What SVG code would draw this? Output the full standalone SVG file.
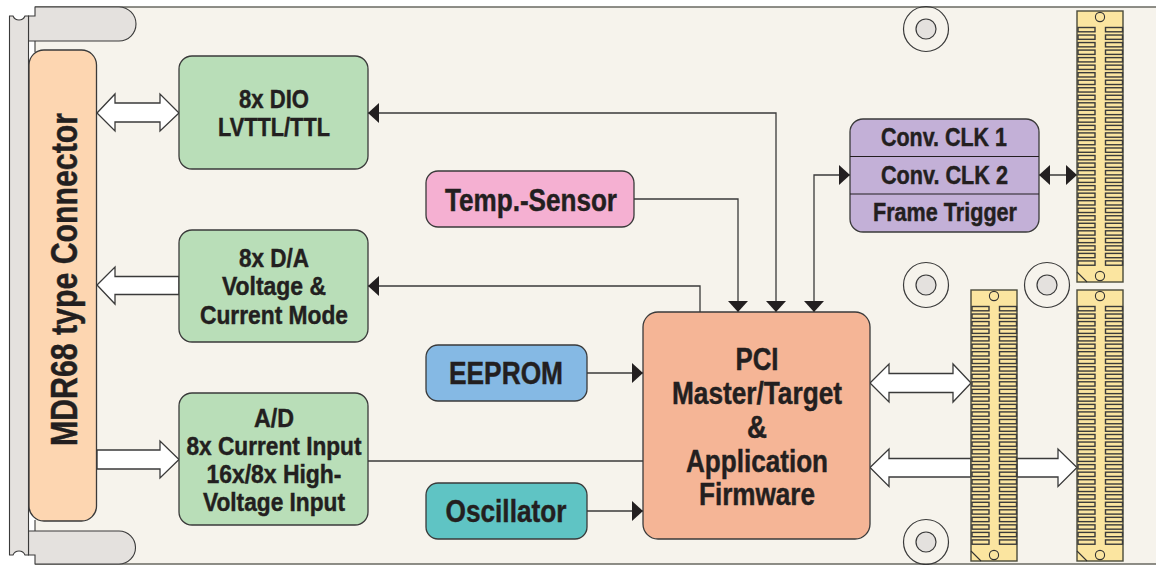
<svg xmlns="http://www.w3.org/2000/svg" width="1156" height="565" viewBox="0 0 1156 565">
<style>
.o{stroke:#3a3a3a;stroke-width:1.3}
.t{font-family:"Liberation Sans",Arial,sans-serif;font-weight:700;fill:#231f20;text-anchor:middle;stroke:#231f20;stroke-width:.45;font-size:26px}
.s29{font-size:31px}
.line{fill:none;stroke:#3a3a3a;stroke-width:1.3}
.wa{fill:#fff;stroke:#3a3a3a;stroke-width:1.3}
.gr{fill:#e4e1de}
.pin{fill:none;stroke:#3a3a3a;stroke-width:1.4}
</style>
<defs>
<marker id="ah" markerUnits="userSpaceOnUse" markerWidth="12" markerHeight="21" refX="11" refY="10" orient="auto-start-reverse" viewBox="0 0 12 20"><path d="M0 0L11 10L0 20z" fill="#231f20"/></marker>
<g id="row"><rect x="1" y="0" width="17" height="4.3" class="pin"/><rect x="28.500" y="0" width="17" height="4.3" class="pin"/></g>
<g id="conn">
<rect x="0" y="0" width="46" height="271" fill="#fbe5a0" stroke="#4a4a3a" stroke-width="1.4"/>
<circle cx="23" cy="6" r="4.6" fill="#fbe5a0" stroke="#333" stroke-width="1.1"/>
<circle cx="23" cy="265" r="4.6" fill="#fbe5a0" stroke="#333" stroke-width="1.1"/>
<path d="M0 261L10 271" fill="none" stroke="#333" stroke-width="1.1"/>
<use href="#row" y="16.500"/><use href="#row" y="24.030"/><use href="#row" y="31.560"/><use href="#row" y="39.090"/>
<use href="#row" y="46.620"/><use href="#row" y="54.150"/><use href="#row" y="61.680"/><use href="#row" y="69.210"/>
<use href="#row" y="76.740"/><use href="#row" y="84.270"/><use href="#row" y="91.800"/><use href="#row" y="99.330"/>
<use href="#row" y="106.860"/><use href="#row" y="114.390"/><use href="#row" y="121.920"/><use href="#row" y="129.450"/>
<use href="#row" y="136.980"/><use href="#row" y="144.510"/><use href="#row" y="152.040"/><use href="#row" y="159.570"/>
<use href="#row" y="167.100"/><use href="#row" y="174.630"/><use href="#row" y="182.160"/><use href="#row" y="189.690"/>
<use href="#row" y="197.220"/><use href="#row" y="204.750"/><use href="#row" y="212.280"/><use href="#row" y="219.810"/>
<use href="#row" y="227.340"/><use href="#row" y="234.870"/><use href="#row" y="242.400"/><use href="#row" y="249.930"/>
</g>
<g id="hole"><circle r="22.500" fill="none" stroke="#3a3a3a" stroke-width="1.2"/><circle r="10" class="gr" stroke="#3a3a3a" stroke-width="1.2"/></g>
</defs>

<g id="board">
<rect x="0" y="0" width="1156" height="565" fill="#fff"/>
<path d="M35 7H1156V564H35z" fill="#f6f3ec"/>
<path d="M35 7H1156M35 564H1156" fill="none" stroke="#6a6a62" stroke-width="1.6"/>
<path d="M28.500 16H35V7H119A17 17 0 0 1 119 41H28.500z" class="gr" stroke="#3a3a3a" stroke-width="1.1"/>
<path d="M28.500 531H119A16.500 16.500 0 0 1 119 564H35V555H28.500z" class="gr" stroke="#3a3a3a" stroke-width="1.1"/>
<path d="M35 41V52M35 520V531" fill="none" stroke="#3a3a3a" stroke-width="1.1"/>
<path d="M9.500 16H13A6.500 6.500 0 0 0 25 16H28.500V555H25A6.500 6.500 0 0 0 13 555H9.500z" class="gr" stroke="#3a3a3a" stroke-width="1.1"/>
</g>
<g id="holes">
<use href="#hole" x="926" y="29"/><use href="#hole" x="926" y="285"/><use href="#hole" x="1047" y="285"/><use href="#hole" x="926" y="542"/>
</g>

<g id="connectors">
<path class="wa" d="M97 113L115 94V103H160V94L179 113L160 131V122H115V131z"/>
<path class="wa" d="M97 285L115 267V276.500H179V294.500H115V304z"/>
<path class="wa" d="M97 450H160V441L179 459.500L160 478V469H97z"/>
<path class="line" d="M368 461H643"/>
<path class="line" d="M368 113H776V312" marker-start="url(#ah)" marker-end="url(#ah)"/>
<path class="line" d="M700 312V286H368" marker-end="url(#ah)"/>
<path class="line" d="M634 199H738V312" marker-end="url(#ah)"/>
<path class="line" d="M587 373H643" marker-end="url(#ah)"/>
<path class="line" d="M587 511H643" marker-end="url(#ah)"/>
<path class="line" d="M850 175H814V312" marker-start="url(#ah)" marker-end="url(#ah)"/>
<path class="line" d="M1039 175H1077" marker-start="url(#ah)" marker-end="url(#ah)"/>
<path class="wa" d="M870 383L889 364V373.500H953V364L971 383L953 402V392.500H889V402z"/>
<path class="wa" d="M870 467.500L889 449V458.500H971V477H889V486.500z"/>
<path class="wa" d="M1017 458.500H1058V449L1077 467.500L1058 486.500V477H1017z"/>
</g>

<g id="conn1"><use href="#conn" x="1077" y="11"/></g>
<g id="conn2"><use href="#conn" x="971" y="290"/></g>
<g id="conn3"><use href="#conn" x="1077" y="290"/></g>

<g id="mdr68"><rect x="29" y="50" width="67.500" height="471" rx="15" fill="#fdd6b1" class="o"/>
<text class="t" style="font-size:36px" transform="translate(76.500 279.500) rotate(-90)" textLength="333" lengthAdjust="spacingAndGlyphs">MDR68 type Connector</text></g>

<g id="dio"><rect x="179" y="56" width="189" height="113" rx="13" fill="#b9deb8" class="o"/>
<text class="t" x="274" y="107.500" textLength="70" lengthAdjust="spacingAndGlyphs">8x DIO</text><text class="t" x="274" y="135.500" textLength="112" lengthAdjust="spacingAndGlyphs">LVTTL/TTL</text></g>

<g id="da"><rect x="179" y="230" width="189" height="112" rx="13" fill="#b9deb8" class="o"/>
<text class="t" x="274" y="267" textLength="70" lengthAdjust="spacingAndGlyphs">8x D/A</text><text class="t" x="274" y="295" textLength="104" lengthAdjust="spacingAndGlyphs">Voltage &amp;</text><text class="t" x="274" y="323.500" textLength="148" lengthAdjust="spacingAndGlyphs">Current Mode</text></g>

<g id="ad"><rect x="179" y="393" width="189" height="132" rx="13" fill="#b9deb8" class="o"/>
<text class="t" x="274" y="427" textLength="40" lengthAdjust="spacingAndGlyphs">A/D</text><text class="t" x="274" y="455" textLength="175" lengthAdjust="spacingAndGlyphs">8x Current Input</text><text class="t" x="274" y="483" textLength="135" lengthAdjust="spacingAndGlyphs">16x/8x High-</text><text class="t" x="274" y="511" textLength="142" lengthAdjust="spacingAndGlyphs">Voltage Input</text></g>

<g id="temp"><rect x="426" y="171" width="208" height="56" rx="12" fill="#f5b0d2" class="o"/>
<text class="t s29" x="531" y="211" textLength="172" lengthAdjust="spacingAndGlyphs">Temp.-Sensor</text></g>

<g id="eeprom"><rect x="426" y="345" width="161" height="56" rx="12" fill="#85b9e4" class="o"/>
<text class="t s29" x="506" y="384" textLength="114" lengthAdjust="spacingAndGlyphs">EEPROM</text></g>

<g id="osc"><rect x="426" y="483" width="161" height="56" rx="12" fill="#5fc4c4" class="o"/>
<text class="t s29" x="506" y="522" textLength="121" lengthAdjust="spacingAndGlyphs">Oscillator</text></g>

<g id="pci"><rect x="643" y="312" width="227" height="227" rx="15" fill="#f5b596" class="o"/>
<text class="t s29" x="757" y="369.500" textLength="43" lengthAdjust="spacingAndGlyphs">PCI</text>
<text class="t s29" x="757" y="403.500" textLength="170" lengthAdjust="spacingAndGlyphs">Master/Target</text>
<text class="t s29" x="757" y="437.500" textLength="20" lengthAdjust="spacingAndGlyphs">&amp;</text>
<text class="t s29" x="757" y="471.500" textLength="142" lengthAdjust="spacingAndGlyphs">Application</text>
<text class="t s29" x="757" y="505" textLength="116" lengthAdjust="spacingAndGlyphs">Firmware</text></g>

<g id="clk"><rect x="850" y="119" width="189" height="113" rx="13" fill="#c3b0d7" class="o"/>
<path d="M850 156.500H1039M850 194H1039" fill="none" stroke="#231f20" stroke-width="1.2"/>
<text class="t" x="944" y="146" textLength="126" lengthAdjust="spacingAndGlyphs">Conv. CLK 1</text><text class="t" x="944.500" y="184" textLength="127" lengthAdjust="spacingAndGlyphs">Conv. CLK 2</text><text class="t" x="945" y="221" style="font-size:25px" textLength="144" lengthAdjust="spacingAndGlyphs">Frame Trigger</text></g>
</svg>
